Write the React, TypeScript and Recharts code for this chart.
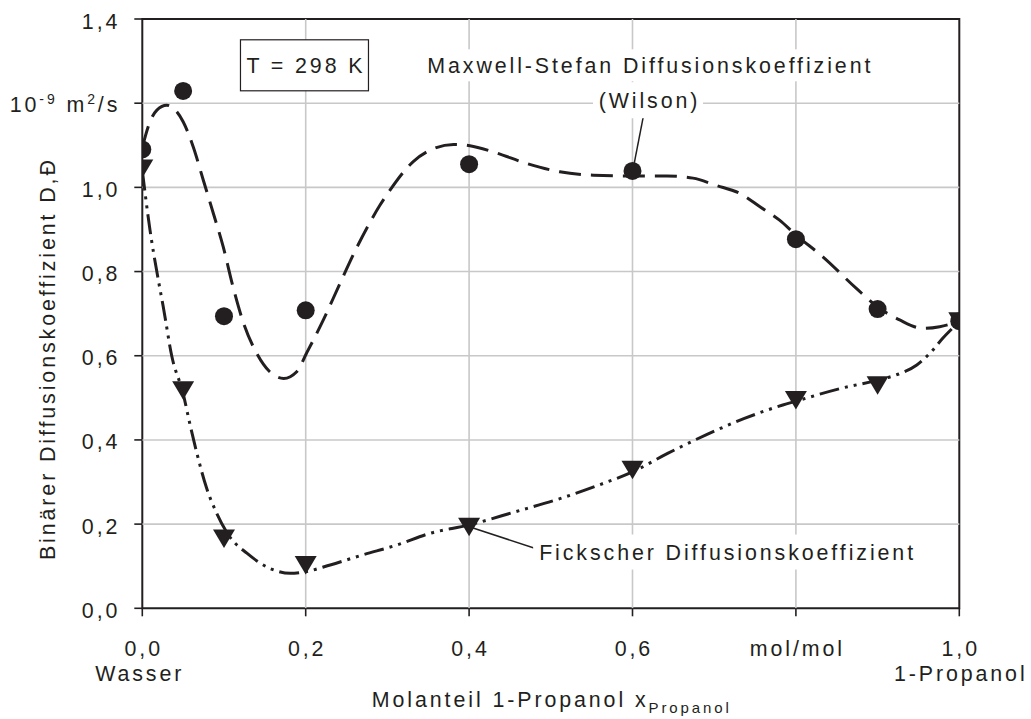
import {
  ComposedChart,
  Line,
  Scatter,
  XAxis,
  YAxis,
  ReferenceArea,
  ReferenceLine,
  ReferenceDot,
} from 'recharts'

const FONT = '"Liberation Sans", Arial, sans-serif'
const INK = '#231f20'
const GRID = '#c8c8c8'
const LS = 2.9

// measured points (x = mole fraction 1-propanol)
const pointX = [0, 0.05, 0.1, 0.2, 0.4, 0.6, 0.8, 0.9, 1.0]
const msPoints = [1.09, 1.229, 0.694, 0.708, 1.055, 1.039, 0.877, 0.711, 0.682]
const fickPoints = [1.045, 0.518, 0.166, 0.103, 0.194, 0.329, 0.495, 0.53, 0.682]

// model curve, Maxwell-Stefan (Wilson)
const msCurveX = [0, 0.0094, 0.0176, 0.03, 0.038, 0.05, 0.0624, 0.0747, 0.087, 0.099, 0.111, 0.124, 0.14, 0.156, 0.173, 0.189, 0.201, 0.2216, 0.242, 0.262, 0.279, 0.291, 0.303, 0.332, 0.352, 0.381, 0.401, 0.43, 0.47, 0.511, 0.552, 0.6, 0.642, 0.674, 0.702, 0.732, 0.756, 0.78, 0.8, 0.833, 0.874, 0.9, 0.927, 0.956, 0.976, 1.0]
const msCurveY = [1.095, 1.156, 1.183, 1.195, 1.188, 1.156, 1.096, 1.017, 0.938, 0.859, 0.764, 0.677, 0.606, 0.562, 0.546, 0.562, 0.606, 0.685, 0.772, 0.855, 0.918, 0.958, 0.993, 1.062, 1.088, 1.102, 1.099, 1.084, 1.057, 1.037, 1.029, 1.027, 1.027, 1.022, 1.005, 0.985, 0.954, 0.922, 0.887, 0.835, 0.76, 0.716, 0.685, 0.665, 0.669, 0.682]

// Fick curve
const fickCurveX = [0, 0.0094, 0.0196, 0.0257, 0.036, 0.05, 0.058, 0.0666, 0.0788, 0.091, 0.107, 0.128, 0.156, 0.181, 0.2, 0.23, 0.27, 0.311, 0.352, 0.4, 0.456, 0.512, 0.559, 0.6, 0.643, 0.69, 0.737, 0.784, 0.8, 0.854, 0.9, 0.925, 0.948, 0.965, 0.98, 1.0]
const fickCurveY = [1.04, 0.899, 0.78, 0.716, 0.6, 0.51, 0.44, 0.37, 0.285, 0.226, 0.17, 0.131, 0.095, 0.083, 0.087, 0.103, 0.127, 0.15, 0.178, 0.198, 0.229, 0.261, 0.293, 0.324, 0.368, 0.412, 0.451, 0.483, 0.492, 0.522, 0.542, 0.556, 0.578, 0.608, 0.642, 0.681]

const xTicks = [0, 0.2, 0.4, 0.6, 0.8, 1.0]
const yTicks = [0, 0.2, 0.4, 0.6, 0.8, 1.0, 1.2, 1.4]

const msPointData = pointX.map((x, i) => ({ x, y: msPoints[i] }))
const fickPointData = pointX.map((x, i) => ({ x, y: fickPoints[i] }))
const msCurveData = msCurveX.map((x, i) => ({ x, y: msCurveY[i] }))
const fickCurveData = fickCurveX.map((x, i) => ({ x, y: fickCurveY[i] }))

const fmt = (v: number) => v.toFixed(1).replace('.', ',')

const textStyle = { fontFamily: FONT, fontSize: 21.4, fill: INK, letterSpacing: LS }

function XTick(props: any) {
  const { x, y, payload } = props
  const v = payload.value
  const main = v === 0.8 ? 'mol/mol' : fmt(v)
  const sub = v === 0 ? 'Wasser' : v === 1 ? '1-Propanol' : null
  return (
    <g>
      <text x={x + LS / 2} y={y + 40} textAnchor="middle" style={textStyle}>{main}</text>
      {sub && <text x={x + LS / 2 - (v === 0 ? 4 : 0)} y={y + 65} textAnchor="middle" style={textStyle}>{sub}</text>}
    </g>
  )
}

function YTick(props: any) {
  const { x, y, payload } = props
  const v = payload.value
  if (Math.abs(v - 1.2) < 1e-6) {
    return (
      <text x={x} y={y + 8.6} textAnchor="end" style={textStyle}>
        <tspan>10</tspan>
        <tspan dy={-8} fontSize={14}>-9</tspan>
        <tspan dy={8}> m</tspan>
        <tspan dy={-8} fontSize={14}>2</tspan>
        <tspan dy={8}>/s</tspan>
      </text>
    )
  }
  return <text x={x} y={y + 9.5} textAnchor="end" style={textStyle}>{fmt(v)}</text>
}

const Circle = (p: any) => <circle cx={p.cx} cy={p.cy} r={9} fill={INK} />
const Triangle = (p: any) => (
  <polygon
    points={`${p.cx - 11},${p.cy - 9} ${p.cx + 11},${p.cy - 9} ${p.cx},${p.cy + 9.5}`}
    fill={INK}
  />
)

function BoxedText({ cx, cy, label, w, h, border }: any) {
  return (
    <g>
      <rect x={cx - w / 2} y={cy - h / 2} width={w} height={h} fill="#fff" stroke={border ? INK : 'none'} strokeWidth={1.2} />
      <text x={cx + LS / 2} y={cy + 7.5} textAnchor="middle" style={textStyle}>{label}</text>
    </g>
  )
}

export default function App() {
  return (
    <div style={{ position: 'absolute', left: 0, top: 0, background: '#fff' }}>
      <ComposedChart
        width={1031}
        height={719}
        margin={{ top: 19, right: 71.7, left: 0, bottom: 30.7 }}
      >
        <XAxis
          type="number"
          dataKey="x"
          domain={[0, 1]}
          ticks={xTicks}
          height={80}
          axisLine={false}
          tickLine={{ stroke: INK, strokeWidth: 1.6 }}
          tickSize={8}
          tickMargin={0}
          tick={XTick}
          allowDataOverflow
          label={{
            content: ({ viewBox }: any) => (
              <text x={viewBox.x + viewBox.width / 2 + 1} y={706.5} textAnchor="middle" style={textStyle}>
                Molanteil 1-Propanol x<tspan dy={6} fontSize={15}>Propanol</tspan>
              </text>
            ),
          }}
        />
        <YAxis
          type="number"
          dataKey="y"
          domain={[0, 1.4]}
          ticks={yTicks}
          width={142.3}
          axisLine={false}
          tickLine={{ stroke: INK, strokeWidth: 1.6 }}
          tickSize={8}
          tickMargin={14}
          tick={YTick}
          allowDataOverflow
          label={{
            content: ({ viewBox }: any) => {
              const cx = viewBox.x + 48
              const cy = viewBox.y + viewBox.height / 2 + 45
              return (
                <text x={cx} y={cy} transform={`rotate(-90 ${cx} ${cy})`} textAnchor="middle" dy={7} style={textStyle}>
                  Binärer Diffusionskoeffizient D,Đ
                </text>
              )
            },
          }}
        />

        {/* light grid at the tick values */}
        {yTicks.slice(1, -1).map((v) => (
          <ReferenceLine key={`gy${v}`} y={v} stroke={GRID} strokeWidth={1.6} />
        ))}
        {xTicks.slice(1, -1).map((v) => (
          <ReferenceLine key={`gx${v}`} x={v} stroke={GRID} strokeWidth={1.6} />
        ))}
        <ReferenceArea x1={0} x2={1} y1={0} y2={1.4} fill="none" fillOpacity={0} stroke={INK} strokeWidth={2} ifOverflow="visible" />

        <Line data={msCurveData} dataKey="y" type="monotone" stroke={INK} strokeWidth={3} strokeDasharray="22 10" dot={false} activeDot={false} isAnimationActive={false} />
        <Line data={fickCurveData} dataKey="y" type="monotone" stroke={INK} strokeWidth={3} strokeDasharray="20 6 3 6 3 6" dot={false} activeDot={false} isAnimationActive={false} />
        <Scatter data={msPointData} dataKey="y" shape={Circle} isAnimationActive={false} />
        <Scatter data={fickPointData} dataKey="y" shape={Triangle} isAnimationActive={false} />

        {/* annotations */}
        <ReferenceLine segment={[{ x: 0.6131, y: 1.167 }, { x: 0.6022, y: 1.058 }]} stroke={INK} strokeWidth={1.5} />
        <ReferenceLine segment={[{ x: 0.4011, y: 0.193 }, { x: 0.4831, y: 0.141 }]} stroke={INK} strokeWidth={1.5} />
        <ReferenceDot x={0.1985} y={1.29} shape={(p: any) => <BoxedText {...p} label="T = 298 K" w={128} h={51} border />} />
        <ReferenceDot x={0.62} y={1.29} shape={(p: any) => <BoxedText {...p} label="Maxwell-Stefan Diffusionskoeffizient" w={452} h={32} />} />
        <ReferenceDot x={0.619} y={1.207} shape={(p: any) => <BoxedText {...p} label="(Wilson)" w={110} h={36} />} />
        <ReferenceDot x={0.7146} y={0.1337} shape={(p: any) => <BoxedText {...p} label="Fickscher Diffusionskoeffizient" w={386} h={35} />} />
      </ComposedChart>
    </div>
  )
}
